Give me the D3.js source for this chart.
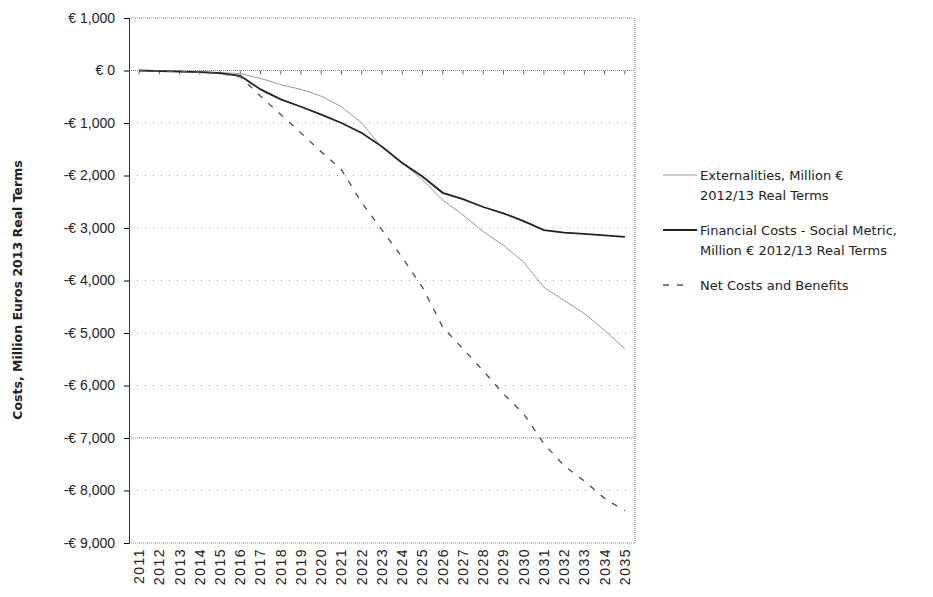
<!DOCTYPE html>
<html><head><meta charset="utf-8">
<script src="https://cdn.jsdelivr.net/npm/d3@7"></script>
<style>body{margin:0;background:#fff;font-family:"DejaVu Sans",sans-serif}</style>
</head><body><div class="chart"></div>
<script>
const years = d3.range(2011, 2036).map(String);
const externalities = [0,0,-10,-20,-40,-60,-150,-270,-360,-490,-690,-1000,-1470,-1760,-2080,-2470,-2750,-3070,-3330,-3650,-4130,-4380,-4630,-4950,-5300];
const financial = [0,-10,-20,-30,-50,-100,-360,-550,-690,-840,-1000,-1190,-1450,-1760,-2020,-2330,-2450,-2600,-2720,-2870,-3040,-3090,-3110,-3140,-3170];
const net = [0,-10,-20,-30,-60,-120,-490,-840,-1190,-1550,-1890,-2520,-3040,-3560,-4130,-4890,-5300,-5720,-6160,-6540,-7110,-7530,-7820,-8150,-8390];
const yTicks = d3.range(1000, -9001, -1000);

const svg = d3.select(".chart").append("svg").attr("width", 933).attr("height", 597);
const x = d3.scaleBand().domain(years).range([129, 635]);
const y = d3.scaleLinear().domain([-9000, 1000]).range([543, 18]);

// gridlines
svg.append("g").selectAll("line").data(yTicks).enter().append("line")
  .attr("x1", 129).attr("x2", 635).attr("y1", d => y(d)).attr("y2", d => y(d))
  .style("stroke", d => d === 0 || d === 1000 || d === -9000 || d === -7000 ? "#888" : "#999")
  .style("stroke-dasharray", d => d === 0 || d === 1000 || d === -9000 || d === -7000 ? "1,1" : "1,7");
svg.append("line").attr("x1", 635).attr("x2", 635).attr("y1", 18).attr("y2", 543)
  .style("stroke", "#777").style("stroke-dasharray", "1,1");

const yAxis = svg.append("g").attr("transform", "translate(129,0)")
  .call(d3.axisLeft(y).tickValues(yTicks).tickSize(5)
    .tickFormat(d => (d < 0 ? "-€ " : "€ ") + d3.format(",")(Math.abs(d))));
yAxis.selectAll("text").style("font-size", "14px").style("fill", "#222").attr("dx", "-6");
yAxis.select(".domain").style("stroke", "#333");

const xAxis = svg.append("g").attr("transform", "translate(0,543)")
  .call(d3.axisBottom(x).tickSize(0));
xAxis.select(".domain").remove();
xAxis.selectAll("text").style("font-size", "14px").style("letter-spacing", "1.5px").style("fill", "#222")
  .attr("transform", "rotate(-90)").attr("text-anchor", "end")
  .attr("x", -5).attr("y", 0).attr("dy", "0.35em");

// small ticks on zero line
svg.append("g").selectAll("line").data(years).enter().append("line")
  .attr("x1", d => x(d) + x.bandwidth() / 2).attr("x2", d => x(d) + x.bandwidth() / 2)
  .attr("y1", y(0)).attr("y2", y(0) + 4).style("stroke", "#666");

svg.append("text").attr("transform", "translate(22,290) rotate(-90)")
  .attr("text-anchor", "middle").style("font-size", "12.5px").style("font-weight", "bold")
  .style("fill", "#222").text("Costs, Million Euros 2013 Real Terms");

const line = d3.line().x((d, i) => x(years[i]) + x.bandwidth() / 2).y(d => y(d));
const series = [
  {data: externalities, color: "#999", width: 1, dash: null},
  {data: financial, color: "#222", width: 1.8, dash: null},
  {data: net, color: "#555", width: 1.4, dash: "6,8"}
];
series.forEach(s => {
  svg.append("path").datum(s.data).attr("d", line).style("fill", "none")
    .style("stroke", s.color).style("stroke-width", s.width).style("stroke-dasharray", s.dash);
});

const legend = [
  {lines: ["Externalities, Million €", "2012/13  Real Terms"], y: 175, s: series[0], x2: 697},
  {lines: ["Financial Costs - Social Metric,", "Million € 2012/13  Real Terms"], y: 230, s: series[1], x2: 697},
  {lines: ["Net Costs and Benefits"], y: 285, s: series[2], x2: 688}
];
legend.forEach(l => {
  svg.append("line").attr("x1", 663).attr("x2", l.x2).attr("y1", l.y).attr("y2", l.y)
    .style("stroke", l.s.color).style("stroke-width", l.s.width).style("stroke-dasharray", l.s.dash);
  l.lines.forEach((t, i) => svg.append("text").attr("x", 700).attr("y", l.y + 5 + i * 20)
    .style("font-size", "13px").style("fill", "#222").text(t));
});
</script></body></html>
